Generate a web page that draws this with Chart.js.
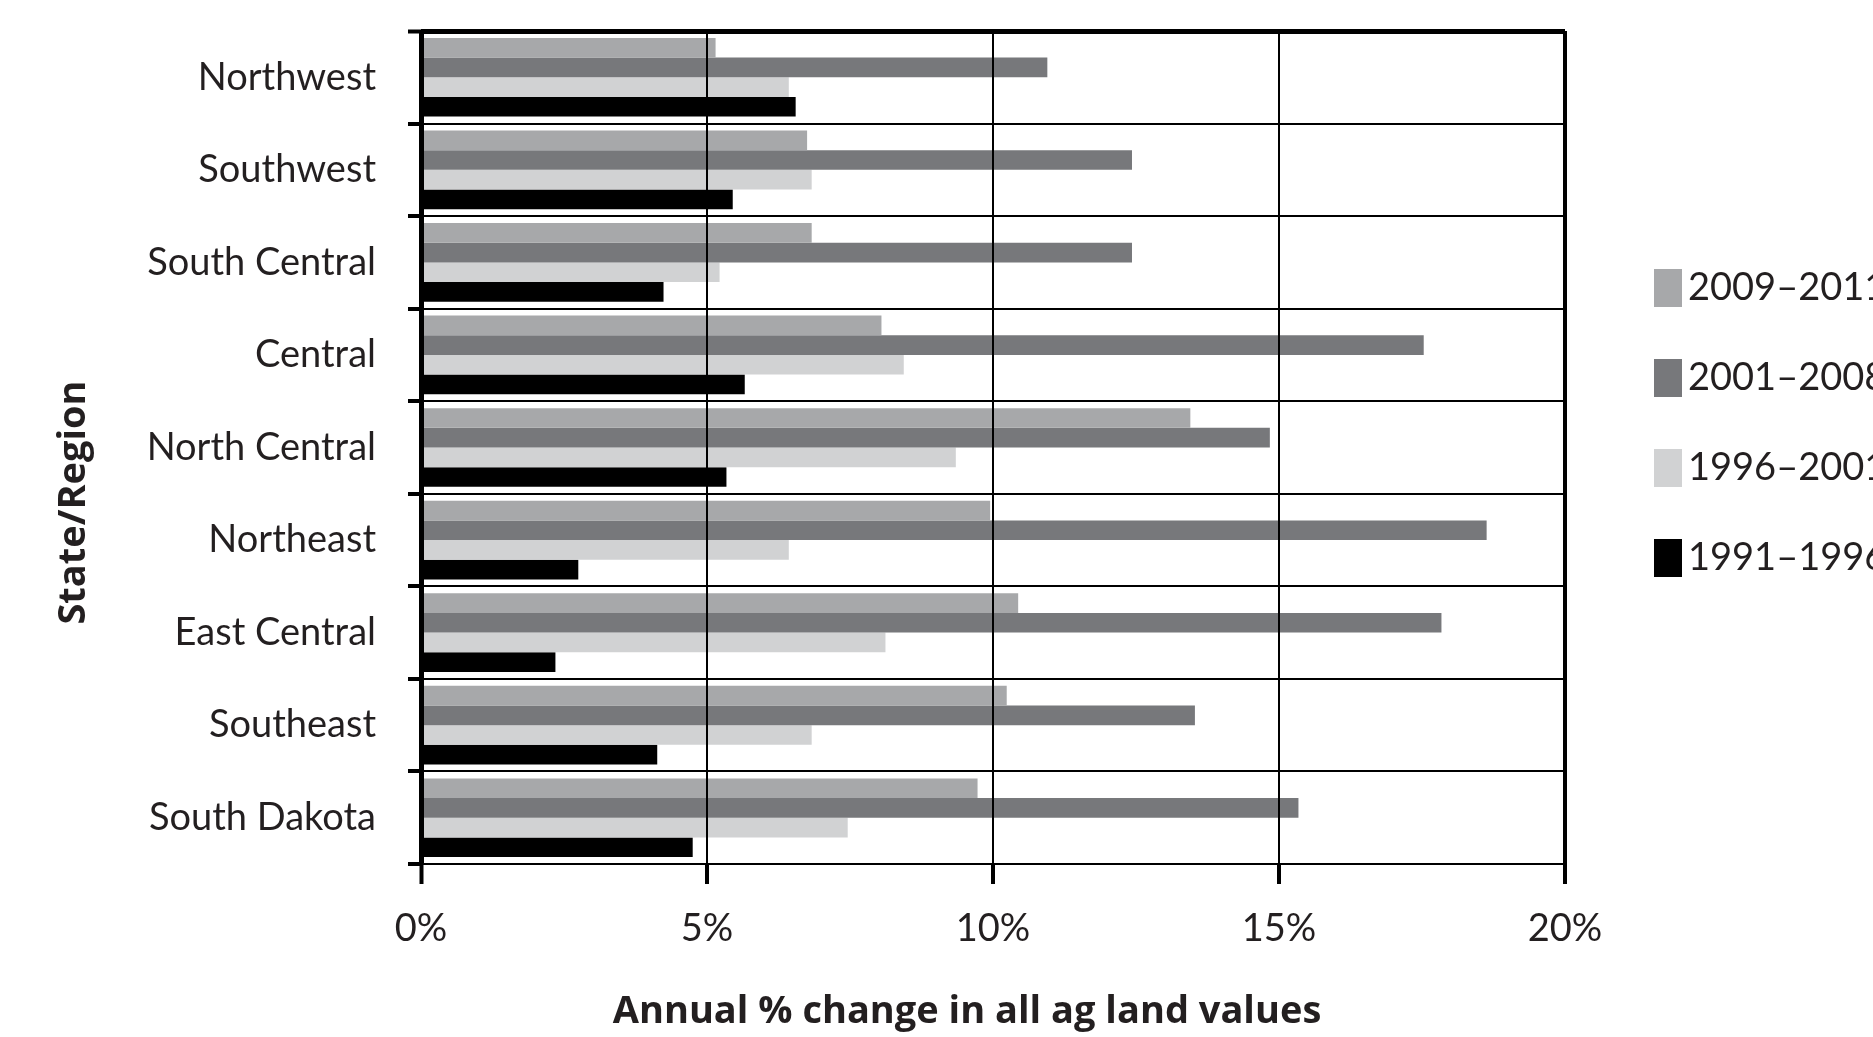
<!DOCTYPE html>
<html>
<head>
<meta charset="utf-8">
<script src="https://cdn.jsdelivr.net/npm/chart.js@4.4.1/dist/chart.umd.min.js"></script>
<style>
  html, body { margin: 0; padding: 0; background: #fff; overflow: hidden; }
  #wrap { width: 1873px; height: 1037px; }
</style>
</head>
<body>
<div id="wrap"><canvas id="landChart"></canvas></div>
<script>
// data
const regions = ['Northwest', 'Southwest', 'South Central', 'Central', 'North Central', 'Northeast', 'East Central', 'Southeast', 'South Dakota'];
const periods = ['2009–2011', '2001–2008', '1996–2001', '1991–1996'];
const change0911 = [5.15, 6.75, 6.83, 8.05, 13.45, 9.95, 10.44, 10.24, 9.73];
const change0108 = [10.95, 12.43, 12.43, 17.53, 14.84, 18.63, 17.84, 13.53, 15.34];
const change9601 = [6.43, 6.83, 5.22, 8.44, 9.35, 6.43, 8.12, 6.83, 7.46];
const change9196 = [6.55, 5.45, 4.24, 5.66, 5.34, 2.75, 2.35, 4.13, 4.75];
const xTicks = [0, 5, 10, 15, 20];
const barColors = ['#a7a8aa', '#77787b', '#d1d2d3', '#000000'];

const ink = '#231f20';
const W = 1873;
const PLOT_LEFT = 421, PLOT_RIGHT = 1565, PLOT_TOP = 31, PLOT_BOTTOM = 864;
const LEG_FONT = 38, LEG_BOX_W = 28, LEG_BOX_H = 38, LEG_PAD = 52;
const LEG_BOX_X = 1654, LEG_TEXT_X = 1688, LEG_FIRST_Y = 269;
const X_TITLE_SHIFT = -26, Y_TITLE_SHIFT = 55;

// legend width so the plot area ends where the reference does
const mctx = document.createElement('canvas').getContext('2d');
mctx.font = LEG_FONT + 'px Lato';
const legText = Math.max(...periods.map(p => mctx.measureText(p).width));
const legWidth = LEG_PAD + LEG_BOX_W + LEG_FONT / 2 + legText + 10;
const padRight = W - PLOT_RIGHT - legWidth;

// move legend block and axis titles to where they sit in the reference
const layoutNudge = {
  id: 'layoutNudge',
  afterLayout(chart) {
    const lg = chart.legend;
    lg.left = LEG_BOX_X - LEG_PAD;
    lg.right = LEG_TEXT_X + legText;
    const colH = periods.length * (LEG_BOX_H + LEG_PAD);
    lg.top = PLOT_TOP;
    lg.bottom = 2 * LEG_FIRST_Y - PLOT_TOP - LEG_PAD + colH;
    const { x, y } = chart.scales;
    x.left += X_TITLE_SHIFT; x.right += X_TITLE_SHIFT;
    y.top += Y_TITLE_SHIFT; y.bottom += Y_TITLE_SHIFT;
  }
};

const series = [change0911, change0108, change9601, change9196];

new Chart(document.getElementById('landChart'), {
  type: 'bar',
  data: {
    labels: regions,
    datasets: series.map((vals, i) => ({
      label: periods[i],
      data: vals,
      backgroundColor: barColors[i],
      borderWidth: 0,
      categoryPercentage: 0.85,
      barPercentage: 1.0,
      clip: false
    }))
  },
  options: {
    indexAxis: 'y',
    responsive: true,
    maintainAspectRatio: false,
    animation: false,
    layout: { padding: { top: PLOT_TOP, left: 0, bottom: 0, right: padRight } },
    plugins: {
      tooltip: { enabled: false },
      legend: {
        position: 'right',
        labels: {
          color: ink,
          font: { family: 'Lato', size: LEG_FONT },
          boxWidth: LEG_BOX_W,
          boxHeight: LEG_BOX_H,
          padding: LEG_PAD,
          textAlign: 'right'
        }
      }
    },
    scales: {
      x: {
        min: 0,
        max: 20,
        afterBuildTicks: s => { s.ticks = xTicks.map(v => ({ value: v })); },
        afterFit: s => { s.height = 1037 - PLOT_BOTTOM; },
        ticks: {
          color: ink,
          font: { family: 'Lato', size: 38 },
          padding: 22,
          callback: v => v + '%'
        },
        grid: {
          color: '#000',
          z: 1,
          lineWidth: c => c.index === 0 ? 5 : (c.index === xTicks.length - 1 ? 4 : 2),
          tickLength: 20,
          tickWidth: 4
        },
        border: { display: false },
        title: {
          display: true,
          text: 'Annual % change in all ag land values',
          color: ink,
          font: { family: 'Open Sans', size: 38, weight: 'bold' },
          padding: { top: 0, bottom: 2 }
        }
      },
      y: {
        afterFit: s => { s.width = PLOT_LEFT; s.paddingTop = 0; s.paddingBottom = 0; },
        ticks: {
          color: ink,
          font: { family: 'Lato', size: 38 },
          padding: 32
        },
        grid: {
          color: '#000',
          z: 1,
          offset: true,
          lineWidth: c => (c.index === 0 || c.index === regions.length) ? 5 : 2,
          tickLength: 13,
          tickWidth: 4
        },
        border: { display: false },
        title: {
          display: true,
          text: 'State/Region',
          color: ink,
          font: { family: 'Open Sans', size: 38, weight: 'bold' },
          padding: { top: 51, bottom: 0 }
        }
      }
    }
  },
  plugins: [layoutNudge]
});
</script>
</body>
</html>
